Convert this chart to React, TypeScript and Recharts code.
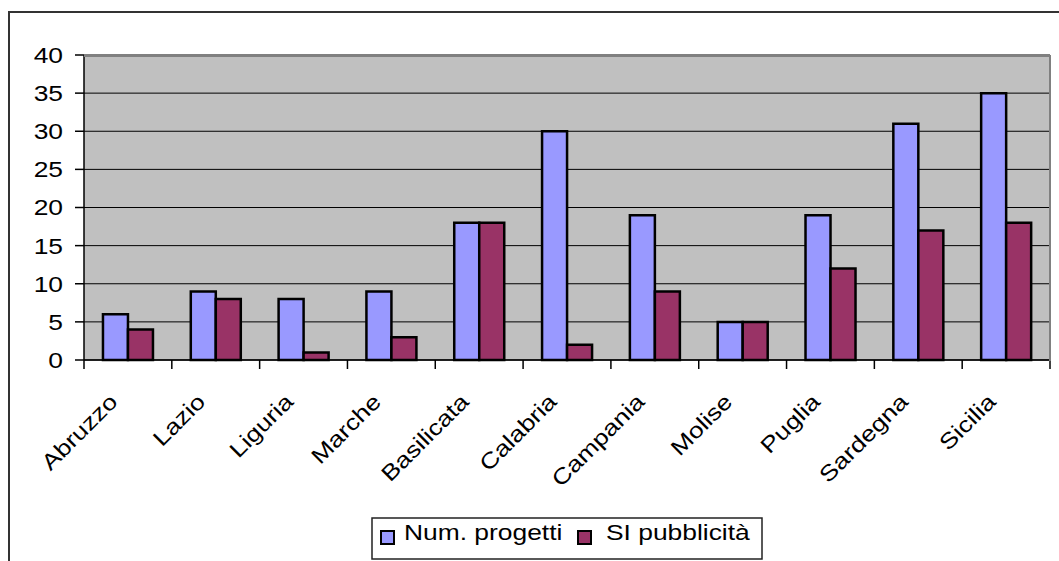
import React from 'react';
import { BarChart, Bar, XAxis, YAxis, CartesianGrid, Legend } from 'recharts';

const categories = ['Abruzzo', 'Lazio', 'Liguria', 'Marche', 'Basilicata', 'Calabria', 'Campania', 'Molise', 'Puglia', 'Sardegna', 'Sicilia'];
const numProgetti = [6, 9, 8, 9, 18, 30, 19, 5, 19, 31, 35];
const siPubblicita = [4, 8, 1, 3, 18, 2, 9, 5, 12, 17, 18];
const yTicks = [0, 5, 10, 15, 20, 25, 30, 35, 40];
const seriesNames = ['Num. progetti', 'SI pubblicità'];
const seriesColors = ['#9999FF', '#993366'];

const data = categories.map((c, i) => ({ name: c, a: numProgetti[i], b: siPubblicita[i] }));

const FONT = '"Liberation Sans", Arial, sans-serif';
const SX = 1.2;

const XTick = (props: any) => {
  const { x, y, payload, index, visibleTicksCount, width } = props;
  const n = visibleTicksCount || categories.length;
  const band = (typeof width === 'number' && width > 0 ? width : 966) / n;
  const left = x - band / 2;
  return (
    <g>
      <line x1={left} y1={y} x2={left} y2={y + 9} stroke="#000" strokeWidth={1.5} />
      {index === n - 1 && <line x1={x + band / 2} y1={y} x2={x + band / 2} y2={y + 9} stroke="#000" strokeWidth={1.5} />}
      <text transform={`translate(${x - 9} ${y + 43}) rotate(-45) scale(${SX} 1)`} textAnchor="end" fontSize={22} fontFamily={FONT} fill="#000">
        {payload.value}
      </text>
    </g>
  );
};

const YTick = (props: any) => {
  const { x, y, payload } = props;
  return (
    <text transform={`translate(${x} ${y}) scale(${SX} 1)`} textAnchor="end" dy="0.36em" fontSize={22} fontFamily={FONT} fill="#000">
      {payload.value}
    </text>
  );
};

const LegendBox = () => (
  <svg width={392} height={43} style={{ display: 'block' }}>
    <rect x={1} y={1} width={390} height={41} fill="#fff" stroke="#222" strokeWidth={1.5} />
    <rect x={10} y={14} width={13} height={13} fill={seriesColors[0]} stroke="#000" strokeWidth={2} />
    <text transform={`translate(33 23) scale(${SX} 1)`} fontSize={22} fontFamily={FONT} fill="#000">{seriesNames[0]}</text>
    <rect x={207} y={14} width={13} height={13} fill={seriesColors[1]} stroke="#000" strokeWidth={2} />
    <text transform={`translate(235 23) scale(${SX} 1)`} fontSize={22} fontFamily={FONT} fill="#000">{seriesNames[1]}</text>
  </svg>
);

export default function App() {
  return (
    <div style={{ position: 'absolute', left: 0, top: 0, width: 1059, height: 561, background: '#fff', overflow: 'hidden' }}>
      <div style={{ position: 'absolute', left: 8, top: 11, width: 1100, height: 600, borderTop: '2px solid #333', borderLeft: '2px solid #333' }} />
      <BarChart width={1059} height={561} data={data} margin={{ top: 55, right: 9, left: 0, bottom: 18 }} barCategoryGap="21.6%" barGap={0}>
        <CartesianGrid vertical={false} fill="#C0C0C0" stroke="#000" strokeWidth={1} />
        <XAxis dataKey="name" height={140} interval={0} axisLine={{ stroke: '#000', strokeWidth: 1.5 }} tickLine={false} tickSize={0} tickMargin={0} tick={<XTick />} />
        <YAxis width={84} domain={[0, 40]} ticks={yTicks} tickSize={9} axisLine={{ stroke: '#000', strokeWidth: 1.5 }} tickLine={{ stroke: '#000', strokeWidth: 1.5 }} tick={<YTick />} tickMargin={12} />
        <Bar dataKey="a" name={seriesNames[0]} fill={seriesColors[0]} stroke="#000" strokeWidth={2.5} isAnimationActive={false} />
        <Bar dataKey="b" name={seriesNames[1]} fill={seriesColors[1]} stroke="#000" strokeWidth={2.5} isAnimationActive={false} />
        <Legend content={<LegendBox />} wrapperStyle={{ position: 'absolute', left: 371, top: 517, width: 392, height: 43 }} />
      </BarChart>
      <div style={{ position: 'absolute', left: 84, top: 55, width: 967, height: 306, borderTop: '2px solid #808080', borderRight: '2px solid #808080', boxSizing: 'border-box', pointerEvents: 'none' }} />
    </div>
  );
}
